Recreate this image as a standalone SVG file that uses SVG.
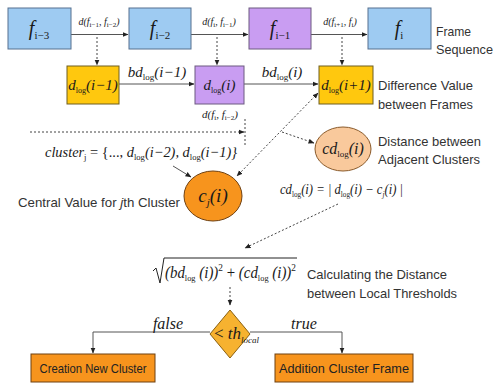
<svg xmlns="http://www.w3.org/2000/svg" width="497" height="385" viewBox="0 0 497 385">
<style>
.blue{fill:#9ecbf2;stroke:#56718f;stroke-width:1}
.purple{fill:#c99df2;stroke:#6d5a80;stroke-width:1}
.yellow{fill:#ffc80e;stroke:#6f5f20;stroke-width:1}
.orange{fill:#f7941d;stroke:#6f4010;stroke-width:1}
.diam{fill:#f6b230;stroke:#8a6010;stroke-width:1}
.lorange{fill:#f9c99c;stroke:#8a5a2a;stroke-width:1}
.m{font-family:"Liberation Serif","Times New Roman",serif;font-style:italic;fill:#1a1a1a}
.u{font-style:normal}
.lbl{font-family:"Liberation Sans",Arial,sans-serif;font-size:13px;fill:#333}
.ln{stroke:#555;stroke-width:1;fill:none}
.dash{stroke:#444;stroke-width:1;stroke-dasharray:2 2;fill:none}
</style>
<defs>
<marker id="ah" markerWidth="6" markerHeight="6" refX="5.5" refY="3" orient="auto-start-reverse" markerUnits="userSpaceOnUse"><path d="M0,0.5 L6,3 L0,5.5 z" fill="#222"/></marker>
</defs>
<rect width="497" height="385" fill="#fff"/>

<g id="connectors">
<line class="ln" x1="71" y1="34.5" x2="128" y2="34.5" marker-end="url(#ah)"/>
<line class="ln" x1="191" y1="34.5" x2="248" y2="34.5" marker-end="url(#ah)"/>
<line class="ln" x1="311" y1="34.5" x2="367" y2="34.5" marker-end="url(#ah)"/>
<line class="dash" x1="97" y1="37" x2="97" y2="65" marker-end="url(#ah)"/>
<line class="dash" x1="217" y1="37" x2="217" y2="65" marker-end="url(#ah)"/>
<line class="dash" x1="342" y1="37" x2="342" y2="65" marker-end="url(#ah)"/>
<line class="ln" x1="119" y1="84" x2="194" y2="84" marker-end="url(#ah)"/>
<line class="ln" x1="244" y1="84" x2="318" y2="84" marker-end="url(#ah)"/>
<line class="dash" x1="30" y1="132" x2="244" y2="132" marker-end="url(#ah)"/>
<line class="dash" x1="245" y1="119" x2="245" y2="145"/>
<line class="ln" x1="173" y1="166" x2="191" y2="177" marker-end="url(#ah)"/>
<line class="dash" x1="318" y1="93" x2="237" y2="176" marker-start="url(#ah)" marker-end="url(#ah)"/>
<line class="dash" x1="282" y1="132" x2="314" y2="143" marker-end="url(#ah)"/>
<line class="dash" x1="338" y1="204" x2="245" y2="248" marker-end="url(#ah)"/>
<line class="dash" x1="230" y1="287" x2="230" y2="305" marker-end="url(#ah)"/>
<polyline class="ln" points="210,332 93,332 93,353" marker-end="url(#ah)"/>
<polyline class="ln" points="250,332 342,332 342,353" marker-end="url(#ah)"/>
</g>

<g id="edge-labels">
<text class="m" x="99" y="25" font-size="10" text-anchor="middle">d(f<tspan class="u" font-size="7" dy="2">i−1</tspan><tspan dy="-2">, f</tspan><tspan class="u" font-size="7" dy="2">i−2</tspan><tspan dy="-2">)</tspan></text>
<text class="m" x="219" y="25" font-size="10" text-anchor="middle">d(f<tspan class="u" font-size="7" dy="2">i</tspan><tspan dy="-2">, f</tspan><tspan class="u" font-size="7" dy="2">i−1</tspan><tspan dy="-2">)</tspan></text>
<text class="m" x="340" y="25" font-size="10" text-anchor="middle">d(f<tspan class="u" font-size="7" dy="2">i+1</tspan><tspan dy="-2">, f</tspan><tspan class="u" font-size="7" dy="2">i</tspan><tspan dy="-2">)</tspan></text>
<text class="m" x="157" y="77" font-size="15" text-anchor="middle">bd<tspan class="u" font-size="9" dy="3">log</tspan><tspan dy="-3">(i−1)</tspan></text>
<text class="m" x="282" y="77" font-size="15" text-anchor="middle">bd<tspan class="u" font-size="9" dy="3">log</tspan><tspan dy="-3">(i)</tspan></text>
<text class="m" x="220" y="118" font-size="11" text-anchor="middle">d(f<tspan class="u" font-size="7" dy="2">i</tspan><tspan dy="-2">, f</tspan><tspan class="u" font-size="7" dy="2">i−2</tspan><tspan dy="-2">)</tspan></text>
<text class="m" x="45" y="157" font-size="15" textLength="192" lengthAdjust="spacingAndGlyphs">cluster<tspan class="u" font-size="9" dy="3">j</tspan><tspan dy="-3" class="u"> = {..., </tspan><tspan>d</tspan><tspan class="u" font-size="9" dy="3">log</tspan><tspan dy="-3">(i−2), d</tspan><tspan class="u" font-size="9" dy="3">log</tspan><tspan dy="-3">(i−1)}</tspan></text>
<text class="m" x="280" y="194" font-size="14" textLength="123" lengthAdjust="spacingAndGlyphs">cd<tspan class="u" font-size="8" dy="3">log</tspan><tspan dy="-3">(i) = | d</tspan><tspan class="u" font-size="8" dy="3">log</tspan><tspan dy="-3">(i) − c</tspan><tspan font-size="8" dy="3">j</tspan><tspan dy="-3">(i) |</tspan></text>
<text class="m" x="168" y="329" font-size="16" text-anchor="middle">false</text>
<text class="m" x="304" y="329" font-size="16" text-anchor="middle">true</text>
</g>

<g id="n-f3"><rect class="blue" x="8" y="8" width="63" height="41"/><text class="m" x="39" y="35" font-size="20" text-anchor="middle">f<tspan class="u" font-size="11" dy="4">i−3</tspan></text></g>
<g id="n-f2"><rect class="blue" x="129" y="8" width="62" height="41"/><text class="m" x="160" y="35" font-size="20" text-anchor="middle">f<tspan class="u" font-size="11" dy="4">i−2</tspan></text></g>
<g id="n-f1"><rect class="purple" x="249" y="8" width="62" height="41"/><text class="m" x="280" y="35" font-size="20" text-anchor="middle">f<tspan class="u" font-size="11" dy="4">i−1</tspan></text></g>
<g id="n-f0"><rect class="blue" x="368" y="8" width="63" height="41"/><text class="m" x="399" y="35" font-size="20" text-anchor="middle">f<tspan class="u" font-size="11" dy="4">i</tspan></text></g>
<g id="lbl-frame"><text class="lbl" x="436" y="36" textLength="35" lengthAdjust="spacingAndGlyphs">Frame</text><text class="lbl" x="436" y="54" textLength="57" lengthAdjust="spacingAndGlyphs">Sequence</text></g>

<g id="n-d1"><rect class="yellow" x="67" y="66" width="52" height="38"/><text class="m" x="93" y="90" font-size="15" text-anchor="middle">d<tspan class="u" font-size="8" dy="3">log</tspan><tspan dy="-3">(i−1)</tspan></text></g>
<g id="n-d0"><rect class="purple" x="195" y="66" width="49" height="38"/><text class="m" x="219.5" y="90" font-size="15" text-anchor="middle">d<tspan class="u" font-size="8" dy="3">log</tspan><tspan dy="-3">(i)</tspan></text></g>
<g id="n-dp"><rect class="yellow" x="319" y="66" width="54" height="38"/><text class="m" x="346" y="90" font-size="15" text-anchor="middle">d<tspan class="u" font-size="8" dy="3">log</tspan><tspan dy="-3">(i+1)</tspan></text></g>
<g id="lbl-diff"><text class="lbl" x="378" y="90" textLength="95" lengthAdjust="spacingAndGlyphs">Difference Value</text><text class="lbl" x="378" y="109" textLength="95" lengthAdjust="spacingAndGlyphs">between Frames</text></g>

<g id="n-cd"><ellipse class="lorange" cx="343" cy="149" rx="28" ry="22"/><text class="m" x="343" y="154" font-size="16" text-anchor="middle">cd<tspan class="u" font-size="9" dy="3">log</tspan><tspan dy="-3">(i)</tspan></text></g>
<g id="lbl-dist"><text class="lbl" x="378" y="146" textLength="103" lengthAdjust="spacingAndGlyphs">Distance between</text><text class="lbl" x="378" y="164" textLength="102" lengthAdjust="spacingAndGlyphs">Adjacent Clusters</text></g>

<g id="n-cj"><ellipse class="orange" cx="213" cy="196" rx="29" ry="25"/><text class="m" x="213" y="202" font-size="19" text-anchor="middle">c<tspan font-size="11" dy="4">j</tspan><tspan dy="-4">(i)</tspan></text></g>
<g id="lbl-central"><text class="lbl" x="18" y="207" textLength="162" lengthAdjust="spacingAndGlyphs">Central Value for <tspan font-style="italic">j</tspan>th Cluster</text></g>

<g id="n-sqrt">
<path d="M153,271 L156,268 L160,283 L164,258 L297,258" fill="none" stroke="#222" stroke-width="1"/>
<text class="m" x="165" y="278" font-size="16" textLength="131" lengthAdjust="spacingAndGlyphs">(bd<tspan class="u" font-size="9" dy="3">log</tspan><tspan dy="-3"> (i))</tspan><tspan class="u" font-size="10" dy="-7">2</tspan><tspan class="u" dy="7"> + </tspan><tspan>(cd</tspan><tspan class="u" font-size="9" dy="3">log</tspan><tspan dy="-3"> (i))</tspan><tspan class="u" font-size="10" dy="-7">2</tspan></text>
</g>
<g id="lbl-calc"><text class="lbl" x="307" y="279" textLength="140" lengthAdjust="spacingAndGlyphs">Calculating the Distance</text><text class="lbl" x="307" y="298" textLength="150" lengthAdjust="spacingAndGlyphs">between Local Thresholds</text></g>

<g id="n-cond"><polygon class="diam" points="230,310 250,334 230,358 210,334"/><text class="m" x="214" y="339" font-size="17"><tspan class="u">&lt;</tspan> th<tspan font-size="9" dy="4">local</tspan></text></g>

<g id="n-new"><rect class="orange" x="31" y="354" width="124" height="28"/><text class="lbl" x="93" y="373" text-anchor="middle" textLength="107" lengthAdjust="spacingAndGlyphs" style="fill:#222">Creation New Cluster</text></g>
<g id="n-add"><rect class="orange" x="275" y="354" width="138" height="28"/><text class="lbl" x="344" y="373" text-anchor="middle" textLength="130" lengthAdjust="spacingAndGlyphs" style="fill:#222">Addition Cluster Frame</text></g>
</svg>
